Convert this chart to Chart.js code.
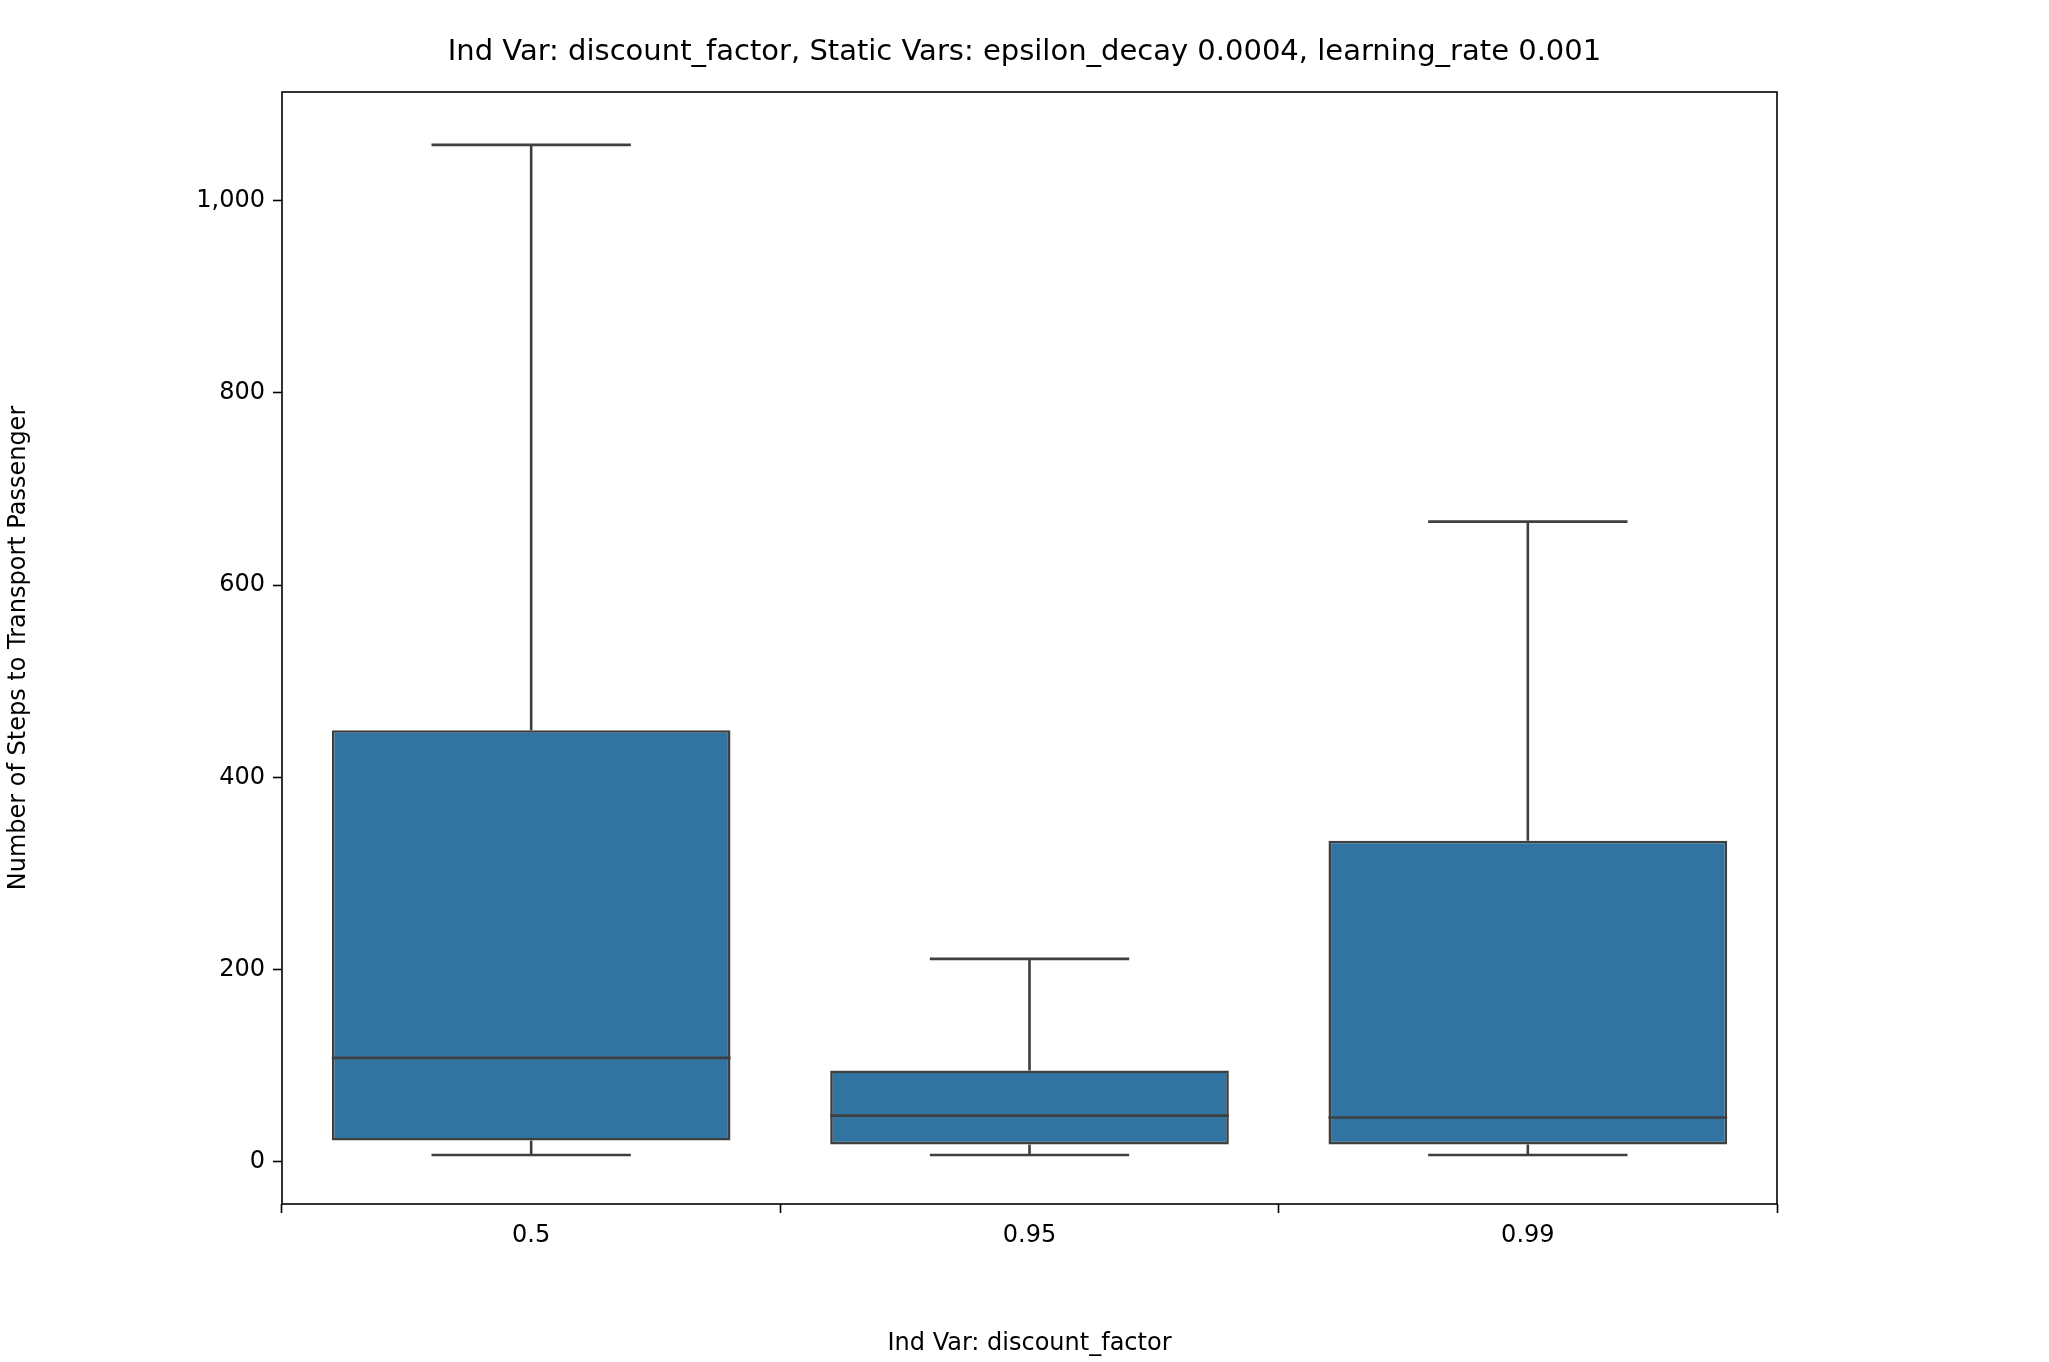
<!DOCTYPE html>
<html>
<head>
<meta charset="utf-8">
<script src="https://cdn.jsdelivr.net/npm/chart.js@4"></script>
<style>
  body { margin: 0; background: #fff; }
</style>
</head>
<body>
<canvas id="c" width="2049" height="1362"></canvas>
<script>
// box stats
const categories = ["0.5", "0.95", "0.99"]
const whiskerLow = [7, 7, 7]
const q1 = [22, 18, 18]
const median = [108, 48, 46]
const q3 = [449, 95, 334]
const whiskerHigh = [1058, 211, 666]
const yTicks = [0, 200, 400, 600, 800, 1000]

const lineColor = "#3f3f3f"
const font = "'DejaVu Sans', sans-serif"

// whiskers, caps, medians and frame on top of the floating bars
const boxPlugin = {
    id: "boxExtras",
    afterDatasetsDraw (chart) {
        const ctx = chart.ctx
        const y = chart.scales.y
        const meta = chart.getDatasetMeta(0)
        ctx.save()
        ctx.strokeStyle = lineColor
        ctx.lineWidth = 2.6
        meta.data.forEach((bar, i) => {
            const x = bar.x
            const half = bar.width / 2
            const cap = bar.width / 4
            ctx.beginPath()
            // lower whisker
            ctx.moveTo(x, y.getPixelForValue(q1[i]))
            ctx.lineTo(x, y.getPixelForValue(whiskerLow[i]))
            ctx.moveTo(x - cap, y.getPixelForValue(whiskerLow[i]))
            ctx.lineTo(x + cap, y.getPixelForValue(whiskerLow[i]))
            // upper whisker
            ctx.moveTo(x, y.getPixelForValue(q3[i]))
            ctx.lineTo(x, y.getPixelForValue(whiskerHigh[i]))
            ctx.moveTo(x - cap, y.getPixelForValue(whiskerHigh[i]))
            ctx.lineTo(x + cap, y.getPixelForValue(whiskerHigh[i]))
            // median
            ctx.moveTo(x - half, y.getPixelForValue(median[i]))
            ctx.lineTo(x + half, y.getPixelForValue(median[i]))
            ctx.stroke()
        })
        const a = chart.chartArea
        ctx.strokeStyle = "#000"
        ctx.lineWidth = 1.6
        ctx.strokeRect(a.left, a.top, a.right - a.left, a.bottom - a.top)
        ctx.fillStyle = "#000"
        ctx.font = "29px " + font
        ctx.textAlign = "center"
        ctx.textBaseline = "middle"
        ctx.fillText("Ind Var: discount_factor, Static Vars: epsilon_decay 0.0004, learning_rate 0.001", chart.width / 2, 52)
        ctx.restore()
    }
}

new Chart(document.getElementById("c").getContext("2d"), {
    type: "bar",
    data: {
        labels: categories,
        datasets: [{
            data: categories.map((c, i) => [q1[i], q3[i]]),
            backgroundColor: "#3274a1",
            borderColor: lineColor,
            borderWidth: 2.6,
            borderSkipped: false,
            barPercentage: 0.8,
            categoryPercentage: 1.0,
        }],
    },
    options: {
        responsive: false,
        animation: false,
        layout: { padding: { top: 92, right: 272, left: 0, bottom: 0 } },
        plugins: { legend: { display: false }, tooltip: { enabled: false } },
        scales: {
            x: {
                grid: { display: true, drawOnChartArea: false, tickLength: 9, color: "#000", tickWidth: 1.6 },
                border: { display: false },
                ticks: { color: "#000", font: { family: font, size: 24 }, padding: 8 },
                title: { display: true, text: "Ind Var: discount_factor", color: "#000", font: { family: font, size: 24 }, padding: { top: 8 } },
                afterFit (s) { s.height = 158 },
            },
            y: {
                min: -44,
                max: 1113,
                afterBuildTicks (s) { s.ticks = yTicks.map(v => ({ value: v })) },
                grid: { display: true, drawOnChartArea: false, tickLength: 9, color: "#000", tickWidth: 1.6 },
                border: { display: false },
                ticks: { color: "#000", font: { family: font, size: 24 }, padding: 8 },
                title: { display: true, text: "Number of Steps to Transport Passenger", color: "#000", font: { family: font, size: 24 }, padding: { bottom: 14 } },
                afterFit (s) { s.width = 282 },
            },
        },
    },
    plugins: [boxPlugin],
})
</script>
</body>
</html>
